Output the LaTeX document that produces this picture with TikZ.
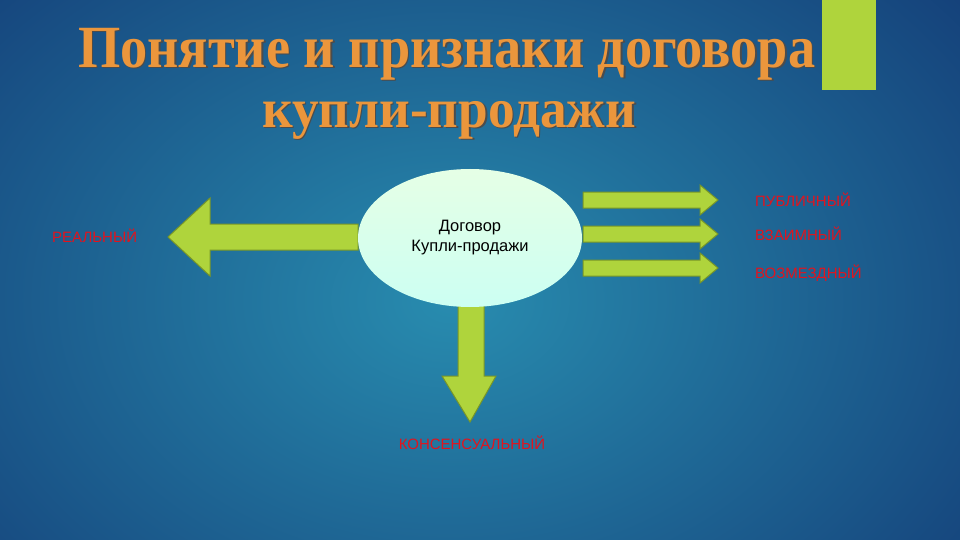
\documentclass[tikz,border=0pt]{standalone}
\usepackage{fontspec}
\setmainfont{Liberation Sans}
\newfontfamily\titlefont{Liberation Serif}
\usetikzlibrary{shapes.geometric}
\definecolor{arrowgreen}{RGB}{175,212,60}
\definecolor{arrowedge}{RGB}{120,150,40}
\definecolor{labelred}{RGB}{225,20,30}
\definecolor{titleorange}{RGB}{235,150,60}
\definecolor{bgin}{RGB}{40,140,175}
\definecolor{bgout}{RGB}{18,55,115}
\tikzset{
 fat/.style={fill=arrowgreen,draw=arrowedge,line width=1pt,line join=miter},
 lbl/.style={text=labelred,font=\fontsize{15}{17}\selectfont,inner sep=0pt},
 ttl/.style={text=titleorange,inner sep=0pt,font=\titlefont\bfseries\fontsize{48}{50}\selectfont},
}
\begin{document}
\begin{tikzpicture}[x=1pt,y=-1pt]
\useasboundingbox (0,0) rectangle (960,540);
\shade[inner color=bgin,outer color=bgout] (-300,-250) rectangle (1200,850);
\fill[arrowgreen] (822,0) rectangle (876,90);
% title
\node[ttl,anchor=north west] (t1s) at (79.5,29.5) {\textcolor{black!70}{\resizebox*{737pt}{52pt}{Понятие и признаки договора}}};
\node[ttl,anchor=north west] (t1) at (78,28) {\resizebox*{737pt}{52pt}{Понятие и признаки договора}};
\node[ttl,anchor=north west] (t2s) at (263.5,102.5) {\textcolor{black!70}{\resizebox*{374pt}{38pt}{купли-продажи}}};
\node[ttl,anchor=north west] (t2) at (262,101) {\resizebox*{374pt}{38pt}{купли-продажи}};
% arrows
\draw[fat] (358,224) -- (210,224) -- (210,198) -- (168,237) -- (210,276) -- (210,250) -- (358,250) -- cycle;
\draw[fat] (458,300) -- (458,376) -- (442,376) -- (470,422) -- (496,376) -- (484,376) -- (484,300) -- cycle;
\foreach \yy in {200,234,268}{
 \draw[fat] (583,\yy-8) -- (700,\yy-8) -- (700,\yy-15) -- (718,\yy) -- (700,\yy+15) -- (700,\yy+8) -- (583,\yy+8) -- cycle;
}
% central ellipse
\node[ellipse,minimum width=224pt,minimum height=138pt,inner sep=0pt,top color=white!90!green,bottom color=green!25!cyan!20,draw=none,align=center,font=\fontsize{16.5}{20}\selectfont] (c) at (470,238) {Договор\\Купли-продажи};
% labels
\node[lbl,anchor=west] (pub) at (755,200) {ПУБЛИЧНЫЙ};
\node[lbl,anchor=west] (vz) at (755,234) {ВЗАИМНЫЙ};
\node[lbl,anchor=west] (voz) at (755,273) {ВОЗМЕЗДНЫЙ};
\node[lbl,anchor=west] (real) at (52,236) {РЕАЛЬНЫЙ};
\node[lbl] (kons) at (472,443) {КОНСЕНСУАЛЬНЫЙ};
\end{tikzpicture}
\end{document}
